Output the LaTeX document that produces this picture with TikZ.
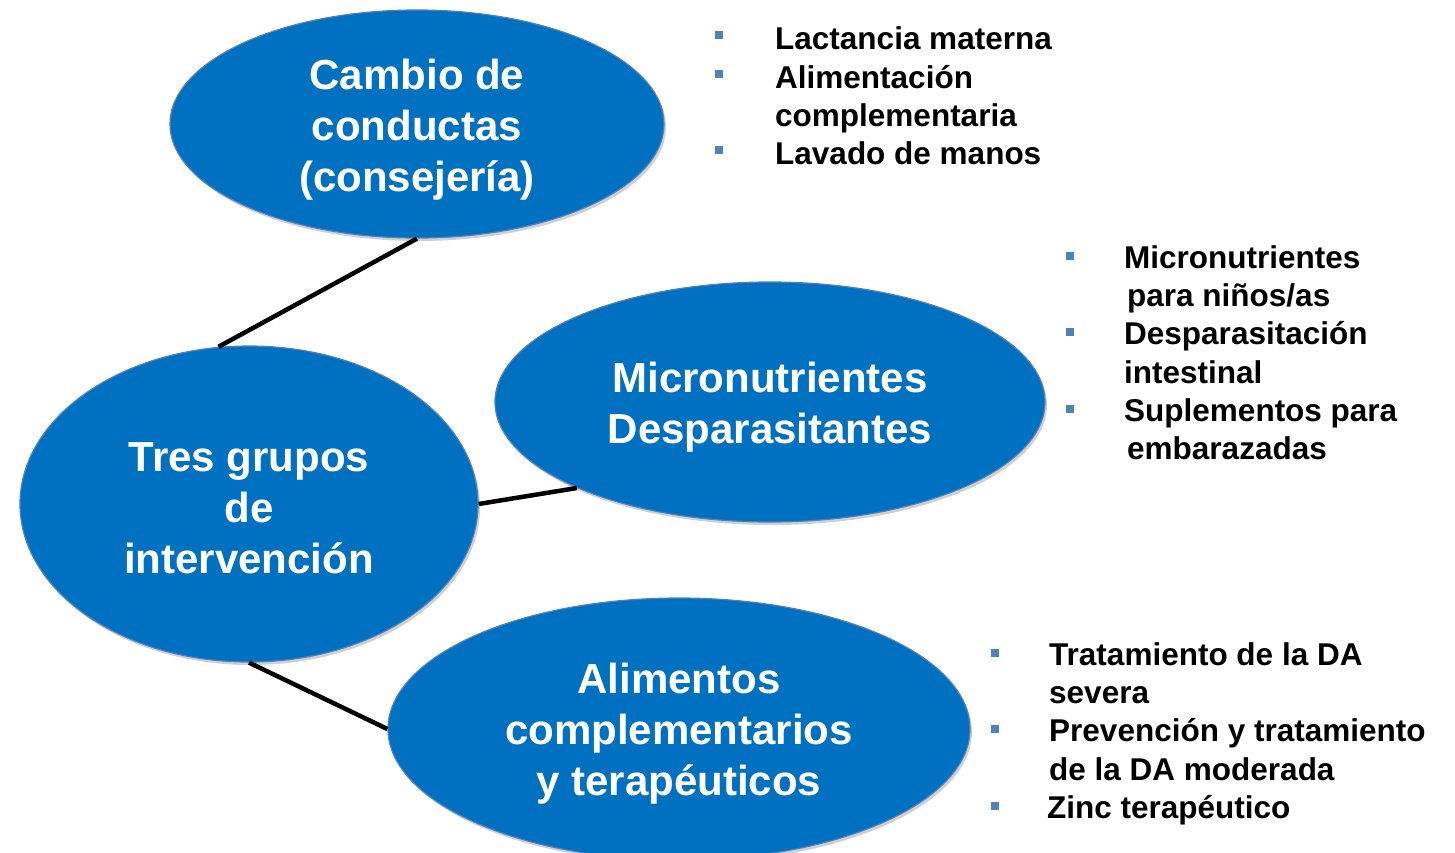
\documentclass[tikz,border=0pt]{standalone}
\usepackage{fontspec}
\setmainfont{Liberation Sans}
\usetikzlibrary{shapes.geometric,shadows,calc}
\definecolor{ellblue}{HTML}{0070C0}
\definecolor{edgeblue}{HTML}{4F81BD}
\definecolor{bulletblue}{HTML}{4F81BD}
\newcommand{\topgap}{\rule{0pt}{41pt}}
\begin{document}
\begin{tikzpicture}[x=1pt,y=-1pt,
  blob/.style={ellipse, fill=ellblue, draw=edgeblue, line width=1.2pt, inner sep=0pt,
    text=white, font=\fontsize{42}{51}\selectfont\bfseries, align=center,
    drop shadow={shadow xshift=2pt, shadow yshift=-3pt, opacity=0.3, fill=black!60}},
  item/.style={anchor=base west, inner sep=0pt, font=\fontsize{31.5}{38}\selectfont\bfseries, text=black},
  bul/.style={rectangle, fill=bulletblue, minimum size=8pt, inner sep=0pt},
  link/.style={line width=4.5pt, black}]
\useasboundingbox (0,0) rectangle (1455,852);
\fill[white] (0,0) rectangle (1455,852);
\clip (0,0) rectangle (1455,852);

% ellipses
\node[blob, minimum width=494pt, minimum height=228pt] (top) at (417,124) {\topgap Cambio de\\conductas\\(consejería)};
\node[blob, minimum width=458pt, minimum height=316pt] (left) at (249,504) {\rule{0pt}{37pt}Tres grupos\\de\\intervención};
\node[blob, minimum width=550pt, minimum height=240pt] (mid) at (770,402) {\topgap Micronutrientes\\Desparasitantes};
\node[blob, minimum width=582pt, minimum height=262pt] (bot) at (679,729) {\rule{0pt}{40pt}Alimentos\\complementarios\\y terapéuticos};

% connectors
\draw[link] (top.south) -- (left.101);
\draw[link] (left.east) -- (mid.204);
\draw[link] (left.south) -- (bot.west);

% top list
\node[item] (a1) at (775,49) {Lactancia materna};
\node[item] (a2) at (775,88) {Alimentación};
\node[item] (a2b) at (775,126) {complementaria};
\node[item] (a3) at (775,164) {Lavado de manos};
\node[bul] (ba1) at ($(a1.base west)+(-56,-14)$) {};
\node[bul] (ba2) at ($(a2.base west)+(-56,-14)$) {};
\node[bul] (ba3) at ($(a3.base west)+(-56,-14)$) {};

% middle list
\node[item] (b1) at (1124,268) {Micronutrientes};
\node[item] (b1b) at (1127,306) {para niños/as};
\node[item] (b2) at (1124,344) {Desparasitación};
\node[item] (b2b) at (1124,383) {intestinal};
\node[item] (b3) at (1124,421) {Suplementos para};
\node[item] (b3b) at (1127,459) {embarazadas};
\node[bul] (bb1) at ($(b1.base west)+(-54,-12)$) {};
\node[bul] (bb2) at ($(b2.base west)+(-54,-12)$) {};
\node[bul] (bb3) at ($(b3.base west)+(-54,-12)$) {};

% bottom list
\node[item] (c1) at (1049,665) {Tratamiento de la DA};
\node[item] (c1b) at (1049,703) {severa};
\node[item] (c2) at (1049,741) {Prevención y tratamiento};
\node[item] (c2b) at (1049,780) {de la DA moderada};
\node[item] (c3) at (1047,818) {Zinc terapéutico};
\node[bul] (bc1) at ($(c1.base west)+(-54,-12)$) {};
\node[bul] (bc2) at ($(c2.base west)+(-54,-12)$) {};
\node[bul] (bc3) at ($(c3.base west)+(-52,-12)$) {};
\end{tikzpicture}
\end{document}
